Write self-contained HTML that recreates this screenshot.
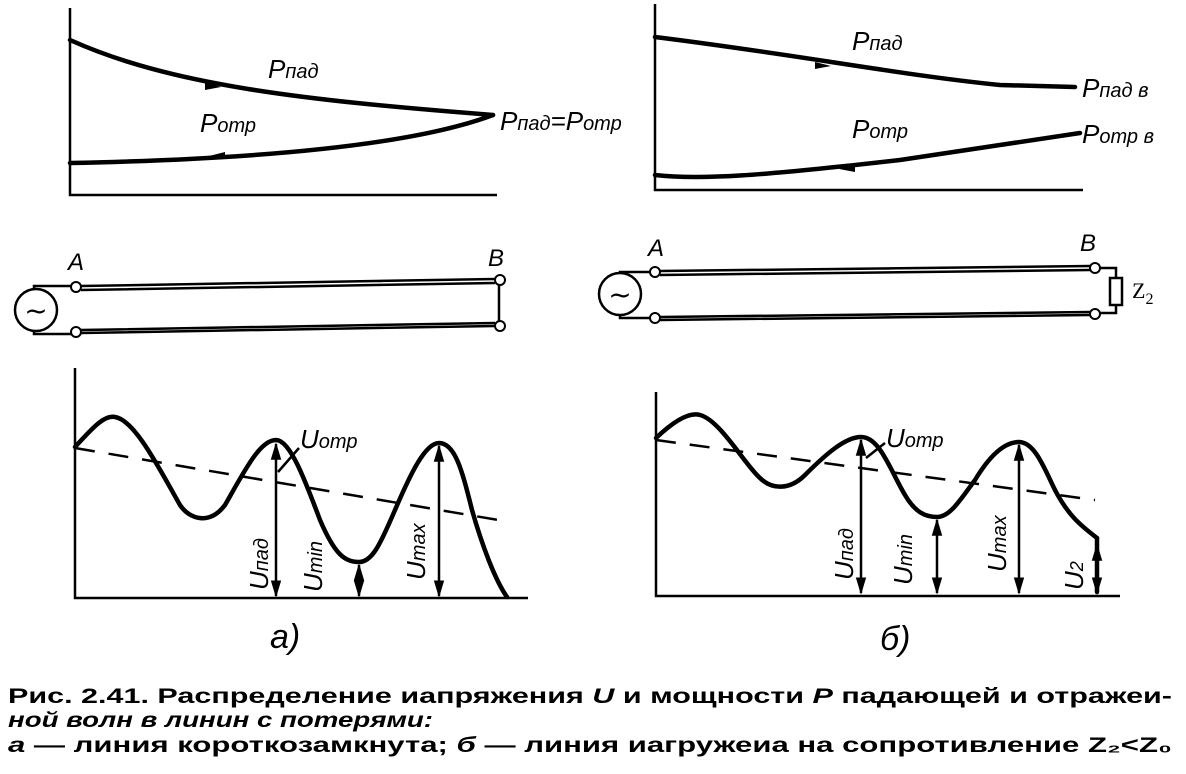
<!DOCTYPE html>
<html><head><meta charset="utf-8"><style>
html,body{margin:0;padding:0;background:#fff}
svg{display:block}
.l{fill:none;stroke:#000;stroke-width:2.5}
.t{fill:none;stroke:#000;stroke-width:4.5;stroke-linecap:round}
.it{font-family:"Liberation Sans",sans-serif;font-style:italic;fill:#000}
.cap{font-family:"Liberation Sans",sans-serif;font-weight:bold;font-size:21px;fill:#000}
</style></head><body>
<svg width="1186" height="774" viewBox="0 0 1186 774" xmlns="http://www.w3.org/2000/svg">
<defs>
<marker id="ar" viewBox="0 0 10 10" refX="9" refY="5" markerWidth="7" markerHeight="7" orient="auto-start-reverse"><path d="M0,2 L10,5 L0,8 z" fill="#000"/></marker>
</defs>
<!-- top left -->
<path class="l" d="M70,8 V195 H497"/>
<path class="t" d="M70,40 C170,85 300,100 493,115"/>
<path class="t" d="M70,163 C220,160 400,150 493,115"/>
<path d="M205,82 l16,5 l-16,3 z" fill="#000"/>
<path d="M225,152 l-16,4 l16,3 z" fill="#000"/>
<text class="it" x="268" y="78" font-size="26">P<tspan font-size="20">пад</tspan></text>
<text class="it" x="200" y="132" font-size="26">P<tspan font-size="20">отр</tspan></text>
<text class="it" x="500" y="130" font-size="26">P<tspan font-size="20">пад</tspan>=P<tspan font-size="20">отр</tspan></text>
<!-- top right -->
<path class="l" d="M655,4 V190 H1083"/>
<path class="t" d="M655,37 C800,55 900,75 1000,85 L1075,87"/>
<path class="t" d="M655,175 C700,180 760,176 900,160 L1080,133"/>
<path d="M815,62 l16,4 l-16,3 z" fill="#000"/>
<path d="M855,165 l-16,4 l16,3 z" fill="#000"/>
<text class="it" x="852" y="50" font-size="26">P<tspan font-size="20">пад</tspan></text>
<text class="it" x="852" y="138" font-size="26">P<tspan font-size="20">отр</tspan></text>
<text class="it" x="1082" y="97" font-size="26">P<tspan font-size="20">пад в</tspan></text>
<text class="it" x="1082" y="143" font-size="26">P<tspan font-size="20">отр в</tspan></text>
<!-- line a -->
<circle cx="36" cy="310" r="21" class="l" stroke-width="3"/>
<text x="36" y="320" text-anchor="middle" font-size="28" font-family="DejaVu Sans">~</text>
<path class="l" d="M34,289 V286 H72 M34,331 V334 H72"/>
<path class="l" d="M81,286 L495,279 M81,290 L495,283 M81,330 L495,323 M81,333 L495,326 M499,283 V321"/>
<circle cx="76" cy="287" r="5" fill="#fff" stroke="#000" stroke-width="2"/>
<circle cx="76" cy="332" r="5" fill="#fff" stroke="#000" stroke-width="2"/>
<circle cx="500" cy="280" r="5" fill="#fff" stroke="#000" stroke-width="2"/>
<circle cx="500" cy="326" r="5" fill="#fff" stroke="#000" stroke-width="2"/>
<text class="it" x="68" y="270" font-size="24">A</text>
<text class="it" x="488" y="266" font-size="24">B</text>
<!-- line b -->
<circle cx="620" cy="294" r="21" class="l" stroke-width="3"/>
<text x="620" y="304" text-anchor="middle" font-size="28" font-family="DejaVu Sans">~</text>
<path class="l" d="M620,273 V272 H650 M620,315 V318 H650"/>
<path class="l" d="M660,271 L1090,266 M660,275 L1090,270 M660,317 L1090,312 M660,320 L1090,315"/>
<path class="l" d="M1100,268 H1116 V278 M1116,305 V313 H1100"/>
<rect x="1110" y="278" width="12" height="27" class="l"/>
<circle cx="655" cy="272" r="5" fill="#fff" stroke="#000" stroke-width="2"/>
<circle cx="655" cy="318" r="5" fill="#fff" stroke="#000" stroke-width="2"/>
<circle cx="1095" cy="268" r="5" fill="#fff" stroke="#000" stroke-width="2"/>
<circle cx="1095" cy="314" r="5" fill="#fff" stroke="#000" stroke-width="2"/>
<text class="it" x="648" y="256" font-size="24">A</text>
<text class="it" x="1080" y="251" font-size="24">B</text>
<text x="1132" y="298" font-size="22" font-family="Liberation Serif">Z<tspan font-size="16" dy="6">2</tspan></text>
<!-- bottom left -->
<path class="l" d="M75,368 V598 H528"/>
<path class="t" d="M75,447 C95,425 105,415 115,417 C135,420 160,470 180,505 C190,520 210,525 225,505 C245,470 260,440 276,440 C290,440 305,480 320,520 C335,555 345,562 359,562 C372,562 380,545 395,510 C410,475 425,443 439,443 C455,443 462,470 472,510 C482,545 495,580 507,597"/>
<path d="M75,448 L510,522" fill="none" stroke="#000" stroke-width="2.5" stroke-dasharray="20,14"/>
<path class="l" d="M276,444 V596" marker-start="url(#ar)" marker-end="url(#ar)"/>
<path class="l" d="M359,565 V596" marker-start="url(#ar)" marker-end="url(#ar)"/>
<path class="l" d="M439,446 V596" marker-start="url(#ar)" marker-end="url(#ar)"/>
<path class="l" d="M299,448 L278,472"/>
<text class="it" x="300" y="448" font-size="26">U<tspan font-size="20">отр</tspan></text>
<text class="it" font-size="26" transform="translate(268,590) rotate(-90)">U<tspan font-size="20">пад</tspan></text>
<text class="it" font-size="26" transform="translate(322,592) rotate(-90)">U<tspan font-size="20">min</tspan></text>
<text class="it" font-size="26" transform="translate(425,580) rotate(-90)">U<tspan font-size="20">max</tspan></text>
<text class="it" x="270" y="648" font-size="34">a)</text>
<!-- bottom right -->
<path class="l" d="M656,392 V596 H1120"/>
<path class="t" d="M656,438 C675,420 690,412 700,415 C720,420 745,465 760,478 C772,490 790,490 805,475 C825,455 845,437 861,437 C880,437 890,470 905,495 C915,512 925,517 937,517 C950,517 960,500 975,480 C990,455 1005,442 1019,442 C1035,442 1045,470 1055,490 C1068,515 1080,525 1097,538 V592"/>
<path d="M656,440 L1095,500" fill="none" stroke="#000" stroke-width="2.5" stroke-dasharray="20,14"/>
<path class="l" d="M861,440 V593" marker-start="url(#ar)" marker-end="url(#ar)"/>
<path class="l" d="M937,520 V593" marker-start="url(#ar)" marker-end="url(#ar)"/>
<path class="l" d="M1019,445 V593" marker-start="url(#ar)" marker-end="url(#ar)"/>
<path class="l" d="M1097,545 V593" marker-start="url(#ar)" marker-end="url(#ar)"/>
<path class="l" d="M885,443 L866,458"/>
<text class="it" x="886" y="447" font-size="26">U<tspan font-size="20">отр</tspan></text>
<text class="it" font-size="26" transform="translate(853,580) rotate(-90)">U<tspan font-size="20">пад</tspan></text>
<text class="it" font-size="26" transform="translate(912,585) rotate(-90)">U<tspan font-size="20">min</tspan></text>
<text class="it" font-size="26" transform="translate(1006,572) rotate(-90)">U<tspan font-size="20">max</tspan></text>
<text class="it" font-size="26" transform="translate(1083,590) rotate(-90)">U<tspan font-size="18">2</tspan></text>
<text class="it" x="880" y="650" font-size="34">б)</text>
<!-- caption -->
<text class="cap" x="8" y="703" textLength="1164" lengthAdjust="spacingAndGlyphs">Рис. 2.41. Распределение иапряжения <tspan font-style="italic">U</tspan> и мощности <tspan font-style="italic">P</tspan> падающей и отражеи-</text>
<text class="cap" x="8" y="727" font-style="italic" textLength="425" lengthAdjust="spacingAndGlyphs">ной волн в линин с потерями:</text>
<text class="cap" x="8" y="752" textLength="1164" lengthAdjust="spacingAndGlyphs"><tspan font-style="italic">а</tspan> — линия  короткозамкнута;  <tspan font-style="italic">б</tspan> — линия  иагружеиа  на  сопротивление  Z₂&lt;Z₀</text>
</svg>
</body></html>
